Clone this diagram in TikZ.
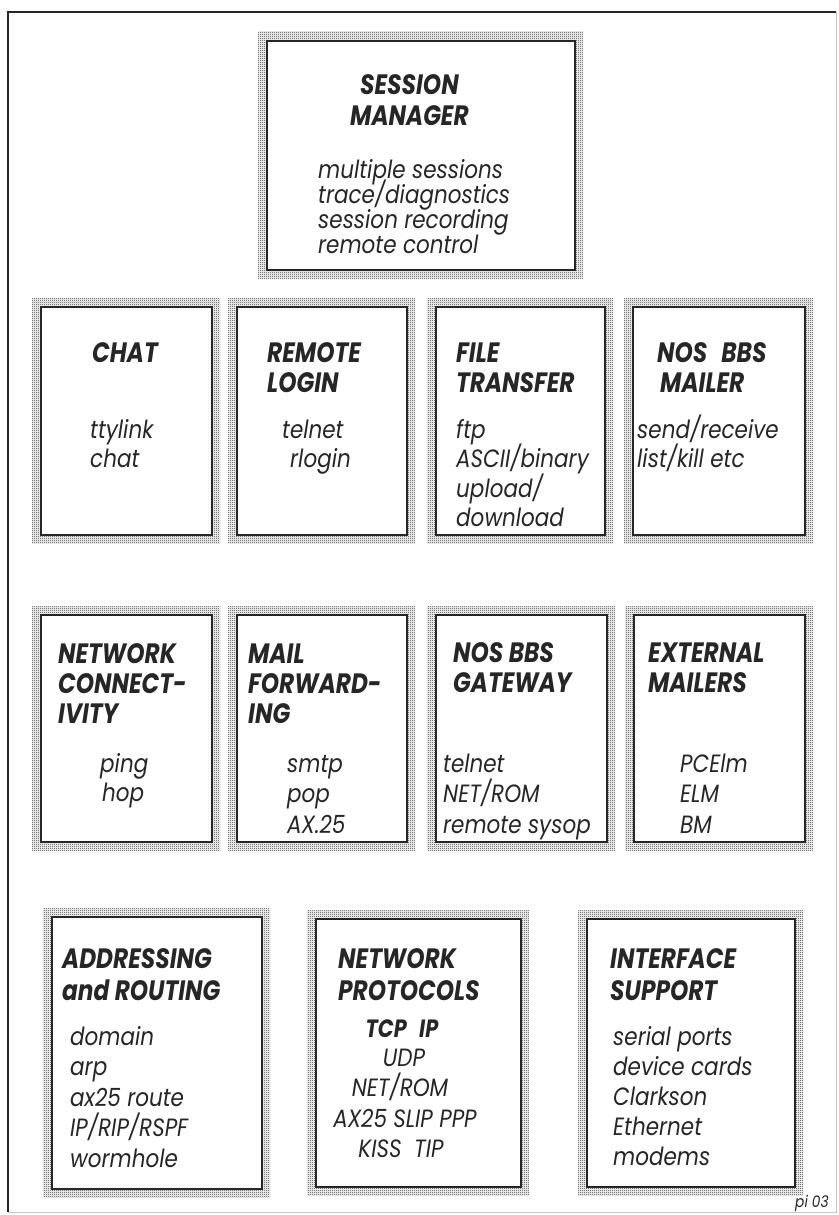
\documentclass[tikz,border=0pt]{standalone}
\usepackage{fontspec}
\setmainfont{Poppins}
\newfontfamily\bodyfont[FakeStretch=0.86]{Poppins}
\newfontfamily\headfont[FakeStretch=0.83]{Poppins}
\usetikzlibrary{fit,patterns}
\pgfdeclarepatternformonly{finechecker}{\pgfpointorigin}{\pgfqpoint{2pt}{2pt}}{\pgfqpoint{2pt}{2pt}}{%
  \pgfpathrectangle{\pgfpointorigin}{\pgfqpoint{1pt}{1pt}}%
  \pgfpathrectangle{\pgfqpoint{1pt}{1pt}}{\pgfqpoint{1pt}{1pt}}%
  \pgfusepath{fill}}
\tikzset{
  frame/.style={draw=none, pattern=finechecker, pattern color=black!80, inner sep=0pt, outer sep=0pt},
  innerline/.style={draw=black!85, line width=2pt, fill=white},
  body/.style={font=\bodyfont\itshape\fontsize{25}{28}\selectfont, inner sep=0pt, text=black!85},
  head/.style={font=\headfont\bfseries\itshape\fontsize{28}{31}\selectfont, inner sep=0pt, text=black!85},
  note/.style={font=\bodyfont\itshape\fontsize{16}{18}\selectfont, inner sep=0pt, text=black!85}
}
\newcommand{\txtrows}[7]{% prefix, anchor, x, y0, dy, style, list
  \foreach \t [count=\i] in {#7} {\node[#6, anchor=#2] (#1-\i) at (#3, {#4+#5*(\i-1)}) {\t};}}
\newcommand{\panel}[5]{% name, x1, y1, x2, y2
  \node[frame, fit={(#2,#3) (#4,#5)}] (#1) {};
  \draw[innerline] ([xshift=9pt,yshift=-9pt]#1.north west) rectangle ([xshift=-8pt,yshift=8pt]#1.south east);}
\begin{document}
\begin{tikzpicture}[x=1pt,y=-1pt]
\useasboundingbox (0,0) rectangle (838,1215);
\fill[white] (0,0) rectangle (838,1215);
% outer frame
\coordinate (ftl) at (8,12);
\coordinate (ftr) at (836,12);
\coordinate (fbl) at (8,1212);
\coordinate (fbr) at (836,1212);
\draw[black!85, line width=1.2pt] (fbl) -- (ftl) -- (ftr);
\draw[gray!45, line width=0.8pt] (ftr) -- (fbr) -- (fbl);

% panels
\panel{sm}{258}{32}{583}{278}
\panel{chat}{32}{298}{220}{543}
\panel{rlog}{228}{298}{415}{543}
\panel{ftr}{427}{298}{613}{543}
\panel{mailer}{624}{298}{813}{543}
\panel{ncon}{32}{606}{220}{850}
\panel{mfwd}{228}{606}{415}{850}
\panel{gate}{427}{606}{615}{850}
\panel{ext}{625}{606}{813}{850}
\panel{addr}{43}{908}{270}{1197}
\panel{nprot}{307}{910}{529}{1195}
\panel{iface}{578}{910}{803}{1195}

% session manager
\node[head, anchor=base west] (smh1) at (360,95) {SESSION};
\node[head, anchor=base west] (smh2) at (350,125) {MANAGER};
\txtrows{smb}{base west}{318}{178}{25}{body}{multiple sessions,trace/diagnostics,session recording,remote control}

% chat
\node[head, anchor=base west] (chath1) at (92,362) {CHAT};
\txtrows{chatb}{base west}{90}{438}{29}{body}{ttylink,chat}

% remote login
\node[head, anchor=base west] (rlogh1) at (267,362) {REMOTE};
\node[head, anchor=base west] (rlogh2) at (267,392) {LOGIN};
\node[body, anchor=base west] (rlogb1) at (282,438) {telnet};
\node[body, anchor=base west] (rlogb2) at (290,467) {rlogin};

% file transfer
\node[head, anchor=base west] (ftrh1) at (456,362) {FILE};
\node[head, anchor=base west] (ftrh2) at (456,392) {TRANSFER};
\txtrows{ftrb}{base west}{456}{438}{29.5}{body}{ftp,ASCII/binary,upload/,download}

% nos bbs mailer
\node[head, anchor=base west] (mailerh1) at (657,362) {NOS\enspace BBS};
\node[head, anchor=base west] (mailerh2) at (660,392) {MAILER};
\txtrows{mailerb}{base west}{637}{438}{29}{body}{send/receive,list/kill etc}

% network connectivity
\txtrows{nconh}{base west}{58}{663}{30}{head}{NETWORK,CONNECT-,IVITY}
\node[body, anchor=base west] (nconb1) at (100,772) {ping};
\node[body, anchor=base west] (nconb2) at (102,801) {hop};

% mail forwarding
\txtrows{mfwdh}{base west}{248}{663}{30}{head}{MAIL,FORWARD-,ING}
\txtrows{mfwdb}{base west}{287}{772}{30.5}{body}{smtp,pop,AX.25}

% nos bbs gateway
\txtrows{gateh}{base west}{453}{662}{30}{head}{NOS BBS,GATEWAY}
\txtrows{gateb}{base west}{443}{772}{30.5}{body}{telnet,NET/ROM,remote sysop}

% external mailers
\txtrows{exth}{base west}{648}{662}{30}{head}{EXTERNAL,MAILERS}
\txtrows{extb}{base west}{680}{772}{30.5}{body}{PCElm,ELM,BM}

% addressing and routing
\txtrows{addrh}{base west}{62}{968}{32}{head}{ADDRESSING,and ROUTING}
\txtrows{addrb}{base west}{70}{1045}{30.5}{body}{domain,arp,ax25 route,IP/RIP/RSPF,wormhole}

% network protocols
\txtrows{nproth}{base west}{338}{968}{32}{head}{NETWORK,PROTOCOLS}
\node[head, font=\headfont\bfseries\itshape\fontsize{25}{28}\selectfont, anchor=base] (nprotb1) at (402,1037) {TCP\enspace IP};
\node[body, anchor=base] (nprotb2) at (404,1066) {UDP};
\node[body, anchor=base] (nprotb3) at (400,1096) {NET/ROM};
\node[body, anchor=base] (nprotb4) at (405,1127) {AX25 SLIP PPP};
\node[body, anchor=base] (nprotb5) at (401,1157) {KISS\enspace TIP};

% interface support
\txtrows{ifaceh}{base west}{610}{968}{32}{head}{INTERFACE,SUPPORT}
\txtrows{ifaceb}{base west}{613}{1045}{30}{body}{serial ports,device cards,Clarkson,Ethernet,modems}

% figure tag
\node[note, anchor=base west] (tag) at (795,1207) {pi 03};
\end{tikzpicture}
\end{document}
